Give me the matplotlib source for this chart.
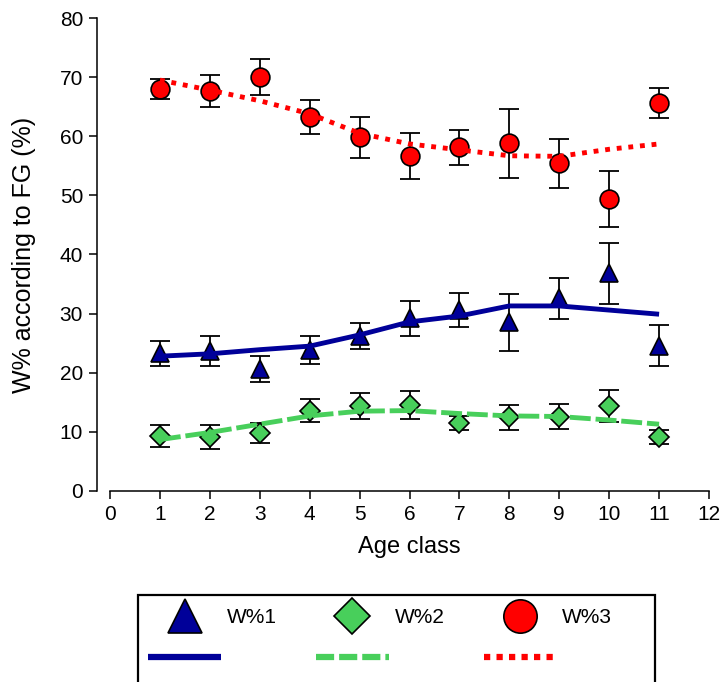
import matplotlib.pyplot as plt
import numpy as np
from matplotlib.lines import Line2D
from matplotlib.patches import Rectangle

plt.rcParams['font.family'] = ['Liberation Sans', 'DejaVu Sans']

# age classes
age = [1, 2, 3, 4, 5, 6, 7, 8, 9, 10, 11]

# W%1 (blue triangles)
w1_mean = [23.3, 23.7, 20.7, 23.8, 26.2, 29.2, 30.6, 28.5, 32.6, 36.8, 24.6]
w1_err = [2.1, 2.5, 2.2, 2.4, 2.2, 2.9, 2.9, 4.9, 3.5, 5.1, 3.4]
w1_fit = [22.8, 23.2, 23.9, 24.5, 26.4, 28.6, 29.6, 31.3, 31.3, 30.6, 29.9]

# W%2 (green diamonds)
w2_mean = [9.3, 9.1, 9.8, 13.6, 14.3, 14.5, 11.5, 12.5, 12.6, 14.4, 9.1]
w2_err = [1.9, 2.05, 1.7, 1.9, 2.2, 2.4, 1.2, 2.1, 2.1, 2.7, 1.2]
w2_fit = [8.7, 9.9, 11.3, 12.7, 13.5, 13.6, 13.1, 12.7, 12.6, 12.0, 11.3]

# W%3 (red circles)
w3_mean = [68.0, 67.6, 70.0, 63.2, 59.8, 56.7, 58.1, 58.8, 55.4, 49.4, 65.6]
w3_err = [1.7, 2.7, 3.1, 2.9, 3.4, 3.9, 2.9, 5.8, 4.1, 4.75, 2.5]
w3_fit = [69.5, 67.8, 66.0, 63.8, 60.5, 58.7, 57.7, 56.7, 56.6, 57.8, 58.7]

blue = '#000099'
green = '#48CF5B'
red = '#FF0000'

fig = plt.figure(figsize=(7.21, 6.82), dpi=100)
ax = fig.add_axes([110 / 721, 191 / 682, 599 / 721, 473 / 682])

series = [
    (w1_mean, w1_err, w1_fit, blue, '^', 12.5, None),
    (w2_mean, w2_err, w2_fit, green, 'D', 10, (4.3, 1.0)),
    (w3_mean, w3_err, w3_fit, red, 'o', 13.5, (1.0, 1.4)),
]

for mean, err, fit, col, mk, ms, dash in series:
    ax.errorbar(age, mean, yerr=err, fmt='none', ecolor='black',
                elinewidth=1.3, capsize=7.2, capthick=1.3, zorder=2)
    ax.plot(age, mean, linestyle='none', marker=mk, markersize=ms,
            markerfacecolor=col, markeredgecolor='black', markeredgewidth=1.2, zorder=3)
    line, = ax.plot(age, fit, color=col, linewidth=3.5, zorder=4,
                    solid_capstyle='butt', dash_capstyle='butt')
    if dash is not None:
        line.set_dashes(dash)

ax.set_xlim(0, 12)
ax.set_ylim(0, 80)
ax.set_xticks(np.arange(0, 13, 1))
ax.set_yticks(np.arange(0, 81, 10))
ax.spines['top'].set_visible(False)
ax.spines['right'].set_visible(False)
ax.spines['left'].set_position(('outward', 9.4))
for s in ['left', 'bottom']:
    ax.spines[s].set_linewidth(1.1)
ax.tick_params(axis='both', direction='out', length=6, width=1.1,
               labelsize=15, pad=4, colors='black')
ax.set_xlabel('Age class', fontsize=17, labelpad=9)
ax.set_ylabel('W% according to FG (%)', fontsize=18, labelpad=17)

# legend box (bottom edge runs off the figure)
fig.patches.append(Rectangle((138 / 721, -0.05), (655 - 138) / 721, 0.05 + (682 - 595) / 682,
                             transform=fig.transFigure, fill=False,
                             edgecolor='black', linewidth=1.6, zorder=0))

handles = [
    Line2D([], [], linestyle='none', marker='^', markersize=24,
           markerfacecolor=blue, markeredgecolor='black', markeredgewidth=1.2),
    Line2D([], [], color=blue, linewidth=4.5, solid_capstyle='butt'),
    Line2D([], [], linestyle='none', marker='D', markersize=18,
           markerfacecolor=green, markeredgecolor='black', markeredgewidth=1.2),
    Line2D([], [], color=green, linewidth=4.5, dashes=(2.9, 0.8), dash_capstyle='butt'),
    Line2D([], [], linestyle='none', marker='o', markersize=24,
           markerfacecolor=red, markeredgecolor='black', markeredgewidth=1.2),
    Line2D([], [], color=red, linewidth=4.5, dashes=(1.0, 1.0), dash_capstyle='butt'),
]
labels = ['W%1', '', 'W%2', '', 'W%3', '']
fig.legend(handles, labels, ncol=3, loc='upper left',
           bbox_to_anchor=(140 / 721, 1 - 600 / 682), frameon=False,
           fontsize=15, handlelength=3.5, handletextpad=0.28,
           columnspacing=1.87, labelspacing=1.06, borderaxespad=0)

fig.savefig('out.png', dpi=100)
